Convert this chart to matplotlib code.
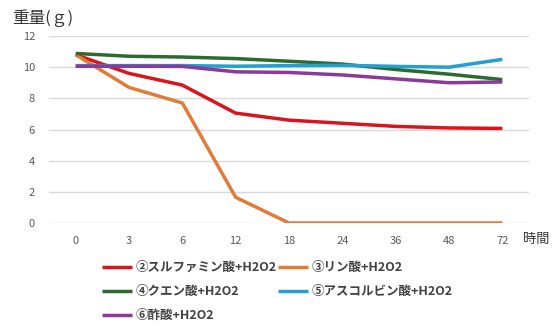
import matplotlib
matplotlib.use("Agg")
import matplotlib.pyplot as plt

plt.rcParams['font.family'] = ['Noto Sans CJK JP', 'DejaVu Sans']

categories = ["0", "3", "6", "12", "18", "24", "36", "48", "72"]
s2 = [10.8, 9.6, 8.85, 7.05, 6.6, 6.4, 6.2, 6.1, 6.07]
s3 = [10.8, 8.7, 7.7, 1.65, 0.0, 0.0, 0.0, 0.0, 0.0]
s4 = [10.88, 10.7, 10.65, 10.55, 10.38, 10.2, 9.85, 9.55, 9.2]
s5 = [10.1, 10.1, 10.1, 10.06, 10.1, 10.12, 10.05, 10.0, 10.5]
s6 = [10.06, 10.06, 10.05, 9.7, 9.66, 9.5, 9.25, 9.0, 9.05]
labels = ["②スルファミン酸+H2O2", "③リン酸+H2O2", "④クエン酸+H2O2",
          "⑤アスコルビン酸+H2O2", "⑥酢酸+H2O2"]
yticks = [0, 2, 4, 6, 8, 10, 12]

colors = ["#d9141c", "#e07b39", "#2d6a2d", "#22a0cf", "#8a3a9a"]

fig = plt.figure(figsize=(5.55, 3.29), dpi=100)
ax = fig.add_axes([49/555, 1-223/329, 480/555, (223-36)/329])

x = list(range(len(categories)))
lines = []
for s, c, lab in zip([s2, s3, s4, s5, s6], colors, labels):
    ln, = ax.plot(x, s, color=c, lw=2.5, label=lab, solid_capstyle='butt', solid_joinstyle='round')
    lines.append(ln)

ax.set_xlim(-0.5, len(categories)-0.5)
ax.set_ylim(0, 12)
ax.set_yticks(yticks)
ax.set_yticklabels([str(v) for v in yticks])
ax.set_xticks(x)
ax.set_xticklabels(categories)
ax.grid(axis='y', color='#d9d9d9', lw=1)
ax.set_axisbelow(True)
for sp in ax.spines.values():
    sp.set_visible(False)
ax.tick_params(length=0, colors='#595959', labelsize=8)
ax.tick_params(axis='y', pad=10)
ax.tick_params(axis='x', pad=9)

fig.text(12/555, 1-18/329, "重量(ｇ)", fontsize=12, color='#333333', va='center', ha='left')
fig.text(523/555, 1-239/329, "時間", fontsize=9.5, color='#333333', va='center', ha='left')

order = [0, 2, 4, 1, 3]
leg = fig.legend([lines[i] for i in order], [labels[i] for i in order],
                 ncol=2, loc='upper left', bbox_to_anchor=(102/555, 1-261/329),
                 frameon=False, fontsize=9, handlelength=2.4, handletextpad=0.3,
                 columnspacing=0.1, labelspacing=0.88, borderaxespad=0, borderpad=0)
for t in leg.get_texts():
    t.set_color('#404040')
    t.set_fontweight('bold')

fig.savefig("out.png", dpi=100)
